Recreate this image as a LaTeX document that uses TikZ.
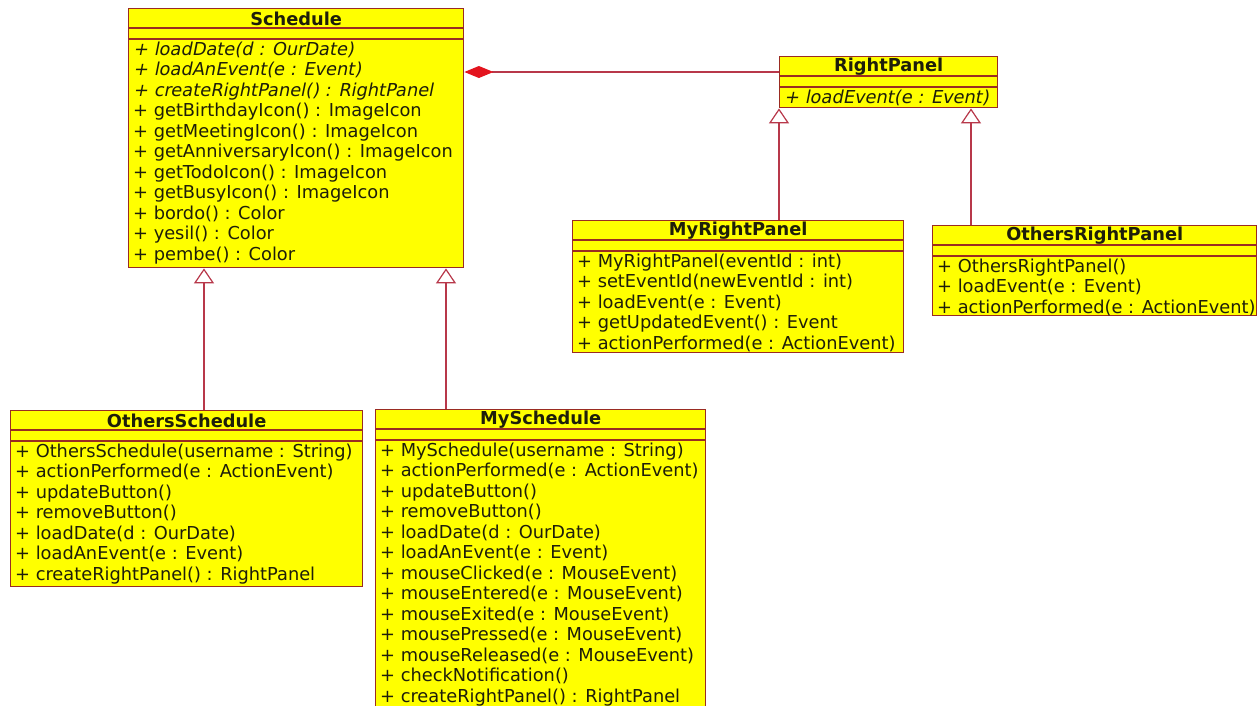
\documentclass[tikz,border=0pt]{standalone}
\usepackage{fontspec}
\setmainfont{DejaVu Sans}
% abstract operations: slanted DejaVu Sans with the upright widths
\newfontfamily\umlslanted{DejaVu Sans}[FakeSlant=0.2]
\newcommand\abstractop[1]{{\umlslanted #1}}
\usetikzlibrary{arrows.meta,calc}

\definecolor{umlfill}{HTML}{FFFF00}
\definecolor{umlline}{HTML}{9A2C22}
\definecolor{linkline}{HTML}{B8384A}
\definecolor{diamondred}{HTML}{E3141E}
\definecolor{umltext}{HTML}{1E1E0A}

\tikzset{
  classbox/.style={draw=umlline, fill=umlfill, line width=1.4pt, inner sep=0pt},
  compsep/.style={draw=umlline, line width=1.1pt},
  classname/.style={font=\fontsize{17.8}{20.5}\selectfont\bfseries, text=umltext, inner sep=0pt},
  members/.style={font=\fontsize{17.8}{20.5}\selectfont, text=umltext, align=left, inner sep=0pt, anchor=north west},
  generalization/.style={draw=linkline, line width=1.2pt,
    -{Triangle[open, length=15pt, width=20pt, fill=white]}},
  composition/.style={draw=linkline, line width=1.2pt,
    -{Diamond[length=29pt, width=12pt, color=diamondred, fill=diamondred]}},
}

% #1 name, #2 x, #3 y, #4 width, #5 height, #6 class name, #7 operations
\newcommand\umlclass[7]{%
  \node[classbox, minimum width=#4pt, minimum height=#5pt, anchor=north west] (#1) at (#2,#3) {};
  \draw[compsep] ($(#1.north west)+(0,20)$) -- ($(#1.north east)+(0,20)$);
  \draw[compsep] ($(#1.north west)+(0,31)$) -- ($(#1.north east)+(0,31)$);
  \node[classname] (#1-name) at ($(#1.north)+(0,10.5)$) {#6};
  \node[members] (#1-ops) at ($(#1.north west)+(5,33.5)$) {#7};
}

\begin{document}
\begin{tikzpicture}[x=1pt, y=-1pt]
  \useasboundingbox (0,0) rectangle (1259,705);
  \fill[white] (0,0) rectangle (1259,705);
  \clip (0,0) rectangle (1259,705);

  \umlclass{sched}{128}{8}{335}{259}{Schedule}{%
    \abstractop{+ loadDate(d : OurDate)}\\
    \abstractop{+ loadAnEvent(e : Event)}\\
    \abstractop{+ createRightPanel() : RightPanel}\\
    + getBirthdayIcon() : ImageIcon\\
    + getMeetingIcon() : ImageIcon\\
    + getAnniversaryIcon() : ImageIcon\\
    + getTodoIcon() : ImageIcon\\
    + getBusyIcon() : ImageIcon\\
    + bordo() : Color\\
    + yesil() : Color\\
    + pembe() : Color}

  \umlclass{rp}{779}{56}{218}{51}{RightPanel}{%
    \abstractop{+ loadEvent(e : Event)}}

  \umlclass{myrp}{572}{220}{331}{132}{MyRightPanel}{%
    + MyRightPanel(eventId : int)\\
    + setEventId(newEventId : int)\\
    + loadEvent(e : Event)\\
    + getUpdatedEvent() : Event\\
    + actionPerformed(e : ActionEvent)}

  \umlclass{orp}{932}{225}{324}{90}{OthersRightPanel}{%
    + OthersRightPanel()\\
    + loadEvent(e : Event)\\
    + actionPerformed(e : ActionEvent)}

  \umlclass{osched}{10}{410}{352}{176}{OthersSchedule}{%
    + OthersSchedule(username : String)\\
    + actionPerformed(e : ActionEvent)\\
    + updateButton()\\
    + removeButton()\\
    + loadDate(d : OurDate)\\
    + loadAnEvent(e : Event)\\
    + createRightPanel() : RightPanel}

  \umlclass{mysched}{375}{409}{330}{320}{MySchedule}{%
    + MySchedule(username : String)\\
    + actionPerformed(e : ActionEvent)\\
    + updateButton()\\
    + removeButton()\\
    + loadDate(d : OurDate)\\
    + loadAnEvent(e : Event)\\
    + mouseClicked(e : MouseEvent)\\
    + mouseEntered(e : MouseEvent)\\
    + mouseExited(e : MouseEvent)\\
    + mousePressed(e : MouseEvent)\\
    + mouseReleased(e : MouseEvent)\\
    + checkNotification()\\
    + createRightPanel() : RightPanel}

  % x positions of the inheritance lines, y of the composition line
  \coordinate (g1) at (204,0);
  \coordinate (g2) at (446,0);
  \coordinate (g3) at (779,0);
  \coordinate (g4) at (971,0);
  \coordinate (c1) at (0,72);

  \draw[generalization] (osched.north -| g1) -- (sched.south -| g1);
  \draw[generalization] (mysched.north -| g2) -- (sched.south -| g2);
  \draw[generalization] (myrp.north -| g3) -- (rp.south -| g3);
  \draw[generalization] (orp.north -| g4) -- (rp.south -| g4);
  \draw[composition] (rp.west |- c1) -- (sched.east |- c1);
\end{tikzpicture}
\end{document}
